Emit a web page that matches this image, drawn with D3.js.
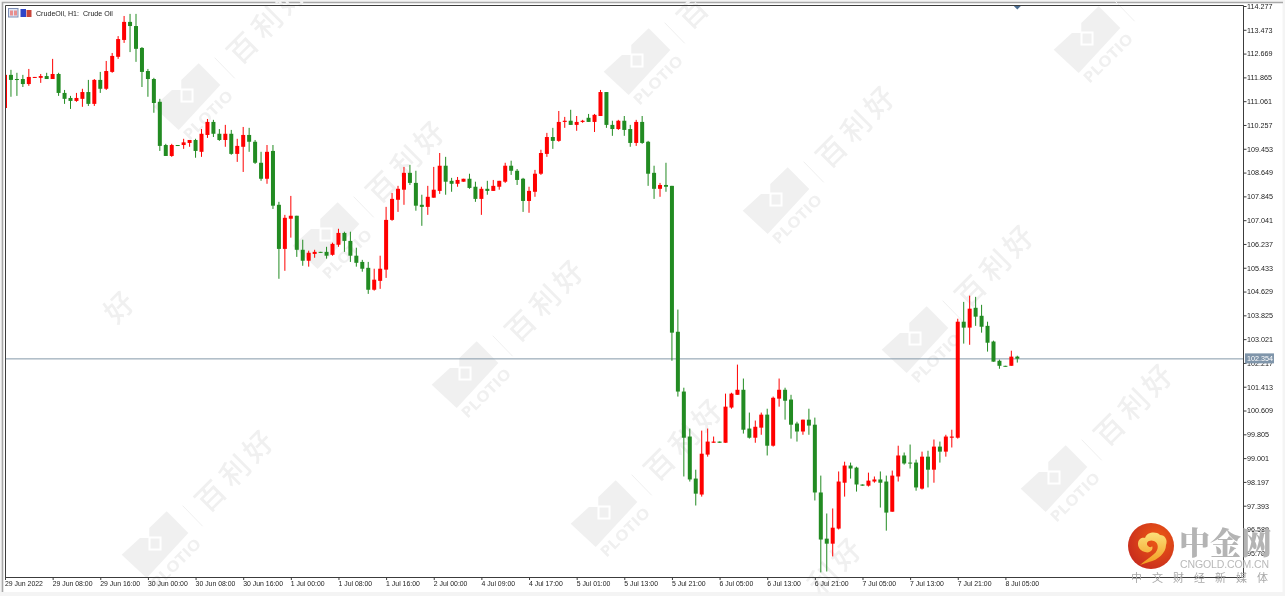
<!DOCTYPE html>
<html><head><meta charset="utf-8">
<script src="https://cdn.jsdelivr.net/npm/d3@7/dist/d3.min.js"></script>
<style>html,body{margin:0;padding:0;background:#f4f4f4;overflow:hidden}svg{display:block;filter:blur(0.35px)}</style>
</head><body><svg id="c" width="1285" height="596"></svg>
<script>
const opens=[110.83,111.95,111.81,111.81,111.64,111.85,111.85,111.91,111.81,111.98,
111.34,111.17,111.07,111.14,111.37,110.97,111.78,111.48,112.05,112.56,
113.13,113.74,113.60,112.86,112.08,111.81,111.04,109.58,109.21,109.58,
109.58,109.65,109.75,109.35,109.92,110.36,109.96,109.75,109.96,109.28,
109.52,109.92,109.69,108.98,108.44,109.38,107.56,106.07,107.09,107.19,
106.04,105.67,105.90,105.97,105.97,105.87,106.21,106.61,106.34,105.84,
105.63,105.43,104.69,104.99,105.37,107.05,107.73,108.07,108.64,108.30,
107.56,107.49,107.80,108.03,108.88,108.37,108.27,108.34,108.44,108.17,
107.76,108.10,108.03,108.17,108.34,108.88,108.71,108.44,107.69,108.00,
108.61,109.28,109.85,109.72,110.36,110.40,110.26,110.36,110.50,110.36,
110.56,111.37,110.26,110.12,110.40,110.12,109.65,110.36,109.69,108.64,
108.10,108.23,108.20,103.27,101.25,99.73,98.31,97.77,99.12,99.52,
99.56,99.52,100.71,101.14,101.31,100.00,99.69,100.03,100.47,99.42,
101.01,101.31,100.98,100.17,99.90,100.30,100.13,97.84,96.28,96.11,
96.62,98.17,98.75,98.68,98.11,98.07,98.21,98.28,98.21,97.19,
98.38,99.09,98.85,98.85,97.97,99.05,98.61,99.39,99.22,99.69,
99.69,103.61,103.41,104.08,103.81,103.47,102.94,102.29,102.12,102.12,102.43];
const highs=[111.95,112.12,112.02,111.95,112.15,111.88,111.98,112.02,112.49,112.02,
111.44,111.24,111.34,111.48,111.78,111.81,112.05,112.42,112.69,113.26,
113.94,114.01,114.01,112.89,112.15,111.85,111.14,109.62,109.62,109.58,
109.79,109.75,109.79,110.12,110.46,110.43,110.12,110.26,110.09,109.79,
110.19,110.16,109.75,109.35,109.58,109.58,107.66,107.22,107.86,107.19,
106.38,106.01,106.04,105.97,106.14,106.28,106.75,106.65,106.65,106.11,
105.70,105.63,105.40,105.84,107.49,107.96,108.20,108.84,108.91,108.71,
107.90,108.20,108.84,109.31,109.18,108.47,108.50,108.44,108.61,108.34,
108.17,108.37,108.40,108.37,108.98,109.05,108.77,108.47,108.17,108.74,
109.42,109.99,110.16,110.73,110.53,110.77,110.56,110.43,110.63,110.63,
111.44,111.37,110.40,110.43,110.56,110.26,110.43,110.56,109.72,108.88,
108.30,108.98,108.20,104.02,101.38,100.00,98.61,99.93,100.00,99.73,
99.56,101.18,101.21,102.16,101.69,100.54,100.27,100.54,100.67,101.08,
101.69,101.38,101.14,100.23,100.30,100.67,100.37,98.41,97.13,97.30,
98.55,98.88,98.85,98.71,98.11,98.51,98.38,98.55,98.41,98.58,
99.42,99.19,99.46,98.95,99.22,99.25,99.63,99.56,99.79,99.96,
103.71,104.28,104.49,104.45,104.18,103.61,102.97,102.33,102.12,102.63,102.46];
const lows=[110.83,111.21,111.24,111.54,111.58,111.85,111.68,111.81,111.81,111.24,
110.97,110.80,111.04,110.87,110.90,110.90,111.34,111.44,112.02,112.49,
113.03,112.72,112.39,111.54,111.21,110.67,109.38,109.21,109.18,109.55,
109.45,109.52,109.15,109.18,109.82,109.85,109.72,109.52,109.25,109.01,
108.67,109.35,108.94,108.37,108.27,107.42,105.06,105.33,106.45,105.80,
105.50,105.47,105.77,105.94,105.74,105.84,106.14,105.97,105.63,105.47,
105.30,104.55,104.66,104.72,105.09,107.02,107.32,107.56,108.23,107.36,
106.85,107.22,107.80,107.93,107.90,108.00,108.17,108.34,108.10,107.66,
107.22,107.90,108.03,108.07,108.30,108.57,108.23,107.32,107.29,107.83,
108.57,109.18,109.45,109.69,110.16,110.26,110.06,110.33,110.36,110.02,
110.56,110.16,109.89,110.09,109.89,109.52,109.55,109.62,108.20,107.76,
107.83,108.00,102.29,101.08,98.38,98.21,97.40,97.70,99.05,99.52,
99.52,99.52,100.67,101.14,99.83,99.66,99.52,99.79,99.09,99.39,
100.74,100.30,99.66,99.56,99.79,99.79,97.57,95.14,95.17,95.68,
96.59,97.70,98.31,97.87,98.07,98.04,98.17,97.33,96.55,97.19,
98.21,98.78,98.65,97.90,97.94,98.01,98.17,98.85,99.05,99.36,
99.66,102.87,102.83,103.47,103.24,102.60,102.26,102.02,102.09,102.12,102.23];
const closes=[111.95,111.78,111.78,111.64,111.88,111.88,111.91,111.81,111.98,111.34,
111.14,111.07,111.17,111.37,110.97,111.78,111.48,112.08,112.59,113.16,
113.74,113.60,112.83,112.05,111.81,111.00,109.55,109.21,109.58,109.55,
109.67,109.75,109.38,109.96,110.36,109.96,109.75,109.96,109.28,109.55,
109.92,109.69,108.98,108.44,109.35,107.53,106.07,107.12,107.19,106.04,
105.67,105.94,105.97,105.94,105.84,106.24,106.61,106.34,105.84,105.60,
105.40,104.69,105.03,105.40,107.05,107.76,108.10,108.64,108.30,107.53,
107.49,107.83,108.07,108.88,108.34,108.27,108.40,108.44,108.13,107.76,
108.10,108.03,108.20,108.37,108.88,108.71,108.40,107.69,108.03,108.61,
109.31,109.85,109.72,110.36,110.40,110.26,110.36,110.40,110.36,110.60,
111.37,110.26,110.12,110.40,110.09,109.65,110.36,109.65,108.61,108.10,
108.23,108.17,103.24,101.25,99.69,98.28,97.80,99.15,99.56,99.56,
99.52,100.74,101.18,101.31,99.96,99.69,100.06,100.47,99.42,101.04,
101.31,100.94,100.13,99.90,100.30,100.10,97.84,96.25,96.11,96.65,
98.21,98.75,98.65,98.11,98.07,98.24,98.28,98.17,97.16,98.41,
99.09,98.82,98.82,98.01,99.05,98.61,99.39,99.22,99.73,99.73,
103.61,103.41,104.05,103.78,103.44,102.90,102.26,102.12,102.09,102.43,102.36];
const priceTicks=[114.277,113.473,112.669,111.865,111.061,110.257,109.453,108.649,107.845,107.041,106.237,105.433,104.629,103.825,103.021,102.217,101.413,100.609,99.805,99.001,98.197,97.393,96.589,95.785];
const timeLabels=["29 Jun 2022","29 Jun 08:00","29 Jun 16:00","30 Jun 00:00","30 Jun 08:00","30 Jun 16:00","1 Jul 00:00","1 Jul 08:00","1 Jul 16:00","2 Jul 00:00","4 Jul 09:00","4 Jul 17:00","5 Jul 01:00","5 Jul 13:00","5 Jul 21:00","6 Jul 05:00","6 Jul 13:00","6 Jul 21:00","7 Jul 05:00","7 Jul 13:00","7 Jul 21:00","8 Jul 05:00"];
const barsPerLabel=8;
const currentPrice=102.354;
const title="CrudeOil, H1:  Crude Oil";

const W=1285,H=596,FONT="'Liberation Sans',Arial,sans-serif",CJK="'Noto Sans CJK SC',sans-serif";
const svg=d3.select("#c");
const x=d3.scaleLinear().domain([0,168]).range([5,1005.4]);
const y=d3.scaleLinear().domain([114.277,95.785]).range([6,553.3]);
const UP="#ff0000",DOWN="#228b22",WM="#f0f0f0";

// page + frame
svg.append("rect").attr("width",W).attr("height",H).attr("fill","#f4f4f4");
svg.append("rect").attr("x",2).attr("y",2).attr("width",1280.5).attr("height",590).attr("fill","#fff");
svg.append("path").attr("d","M2.5,592V2.5H1283").attr("fill","none").attr("stroke","#a8a8a8").attr("stroke-width",1.6);

// watermark
const defs=svg.append("defs");
const wmG=svg.append("g");
const glyphs=[["百",55.7,-46.7],["利",80,-72],["好",103,-96.7]];
const anchors=[
  {at:[155,543],logo:true,chars:[0,1,2]},{at:[16,404],logo:false,chars:[2]},
  {at:[604,512],logo:true,chars:[0,1,2]},{at:[465,373],logo:true,chars:[0,1,2]},
  {at:[326,234],logo:true,chars:[0,1,2]},{at:[187,95],logo:true,chars:[0,1,2]},
  {at:[743,651],logo:false,chars:[1,2]},{at:[1054,477],logo:true,chars:[0,1,2]},
  {at:[915,338],logo:true,chars:[0,1,2]},{at:[776,199],logo:true,chars:[0,1,2]},
  {at:[637,60],logo:true,chars:[0]},{at:[1087,38],logo:true,chars:[]}];
anchors.forEach(a=>{
  const g=wmG.append("g").attr("transform",`translate(${a.at[0]},${a.at[1]})`);
  if(a.logo){
    g.append("path").attr("fill",WM).attr("d","M-33.3,11.7L-15,-5H-5.7V-15L11.7,-31.7L33.3,-10L-8.3,35Z");
    g.append("rect").attr("x",-5.5).attr("y",-5.5).attr("width",11).attr("height",12).attr("fill","none").attr("stroke","#fff").attr("stroke-width",2);
    g.append("text").attr("transform","translate(21,20) rotate(-45)").attr("text-anchor","middle").attr("dy","0.36em")
      .attr("font-family","'Open Sans',sans-serif").attr("font-weight",700).attr("font-size",15).attr("textLength",63).attr("lengthAdjust","spacingAndGlyphs").attr("fill",WM).text("PLOTIO");
    g.append("line").attr("x1",27.7).attr("y1",-37.3).attr("x2",47.7).attr("y2",-16.7).attr("stroke",WM).attr("stroke-width",1);
  }
  a.chars.forEach(k=>{
    const [ch,tx,ty]=glyphs[k];
    g.append("text").attr("transform",`translate(${tx},${ty}) rotate(-45)`).attr("text-anchor","middle").attr("dy","0.36em")
      .attr("font-family",CJK).attr("font-size",29).attr("font-weight",500).attr("fill",WM).text(ch);
  });
});

// current price line
svg.append("line").attr("x1",5).attr("x2",1244).attr("y1",y(currentPrice)).attr("y2",y(currentPrice)).attr("stroke","#8499a8").attr("stroke-width",1);

// candles
const data=opens.map((o,i)=>({i,o,h:highs[i],l:lows[i],c:closes[i]}));
svg.append("defs").append("clipPath").attr("id","plot").append("rect").attr("x",5).attr("y",5).attr("width",1239).attr("height",572);
const cg=svg.append("g").attr("clip-path","url(#plot)");
const col=d=>d.c>=d.o?UP:DOWN;
cg.selectAll("line.w").data(data).join("line").attr("class","w")
  .attr("x1",d=>x(d.i)).attr("x2",d=>x(d.i)).attr("y1",d=>y(d.h)).attr("y2",d=>y(d.l))
  .attr("stroke",col).attr("stroke-width",1);
cg.selectAll("rect.b").data(data).join("rect").attr("class","b")
  .attr("x",d=>x(d.i)-2).attr("width",4)
  .attr("y",d=>y(Math.max(d.o,d.c))).attr("height",d=>Math.max(1,Math.abs(y(d.o)-y(d.c))))
  .attr("fill",col);

// frame lines
svg.append("path").attr("d","M5.5,577.5V5.5H1243.5V577.5H5.5").attr("fill","none").attr("stroke","#3c3c3c").attr("stroke-width",1);

// axes
const ax=d3.axisBottom(x).tickValues(timeLabels.map((_,i)=>i*barsPerLabel)).tickFormat((_,i)=>timeLabels[i]).tickSize(3).tickPadding(1);
const gx=svg.append("g").attr("transform","translate(0,577)").call(ax);
gx.select(".domain").remove();
gx.selectAll("line").attr("stroke","#3c3c3c");
gx.selectAll("text").attr("text-anchor","start").attr("dx",-0.5).attr("font-family",FONT).attr("font-size",6.9).attr("fill","#222");
const ay2=d3.axisRight(y).tickValues(priceTicks).tickFormat(d3.format(".3f")).tickSize(3).tickPadding(0.5);
const gy=svg.append("g").attr("transform","translate(1243.5,0)").call(ay2);
gy.select(".domain").remove();
gy.selectAll("line").attr("stroke","#3c3c3c");
gy.selectAll("text").attr("font-family",FONT).attr("font-size",7.2).attr("fill","#222");

// current price tag
svg.append("rect").attr("x",1245).attr("y",y(currentPrice)-5.5).attr("width",29).attr("height",10).attr("fill","#7f95aa");
svg.append("text").attr("x",1247).attr("y",y(currentPrice)).attr("dy","0.36em").attr("font-family",FONT).attr("font-size",7.2).attr("fill","#fff").text(d3.format(".3f")(currentPrice));

// last bar marker
svg.append("path").attr("transform",`translate(${x(170)},6)`).attr("d","M-3.5,0H3.5L0,3.5Z").attr("fill","#4d6f94");

// title and small icons
svg.append("text").attr("x",36).attr("y",15.5).attr("font-family",FONT).attr("font-size",7.1).attr("fill","#222").style("white-space","pre").text(title);
svg.append("rect").attr("x",8.5).attr("y",8.5).attr("width",9.5).attr("height",8.5).attr("fill","#dfe6f5").attr("stroke","#7f8fb5");
svg.append("rect").attr("x",10).attr("y",10.5).attr("width",3).attr("height",5).attr("fill","#e88f8f");
svg.append("rect").attr("x",14).attr("y",10.5).attr("width",3).attr("height",5).attr("fill","#e88f8f");
svg.append("rect").attr("x",20.5).attr("y",9).attr("width",5.5).attr("height",8).attr("fill","#2f44c8");
svg.append("rect").attr("x",26.5).attr("y",10).attr("width",5).attr("height",7).attr("fill","#c8463c");

// cngold logo
const grad=defs.append("radialGradient").attr("id","lg").attr("cx","65%").attr("cy","35%").attr("r","75%");
grad.append("stop").attr("offset","0%").attr("stop-color","#ee5a14");
grad.append("stop").attr("offset","100%").attr("stop-color","#c62a1e");
const cloud=defs.append("linearGradient").attr("id","cl").attr("x1","0").attr("y1","0").attr("x2","0").attr("y2","1");
cloud.append("stop").attr("offset","0%").attr("stop-color","#fbe07a");
cloud.append("stop").attr("offset","100%").attr("stop-color","#f39a1e");
const lg=svg.append("g").attr("transform","translate(1151,546)");
lg.append("circle").attr("r",23).attr("fill","url(#lg)");
lg.append("path").attr("fill","url(#cl)").attr("d","M-13,-2C-13,-8 -8,-9 -6,-8C-4,-14 5,-15 9,-11C14,-11 17,-6 15,-1C15,7 7,14 -2,16C-5,17 -8,18 -11,19C-7,15 -1,12 3,8C8,4 8,-3 3,-5C-2,-7 -6,-3 -3,0C-1,2 1,1 1,0C3,3 -1,8 -6,6C-10,5 -13,2 -13,-2Z");
svg.append("text").attr("x",1179).attr("y",554).attr("font-family","'Noto Serif CJK SC','Noto Sans CJK SC',sans-serif").attr("font-weight",900).attr("font-size",31).attr("fill","#b4b4b4").text("中金网");
svg.append("text").attr("x",1180).attr("y",568).attr("font-family",FONT).attr("font-size",10.5).attr("textLength",89).attr("lengthAdjust","spacing").attr("fill","#b9b9b9").text("CNGOLD.COM.CN");
svg.append("text").attr("x",1131).attr("y",582).attr("font-family",CJK).attr("font-size",11).attr("textLength",137).attr("lengthAdjust","spacing").attr("fill","#a8a8a8").text("中文财经新媒体");
</script></body></html>
